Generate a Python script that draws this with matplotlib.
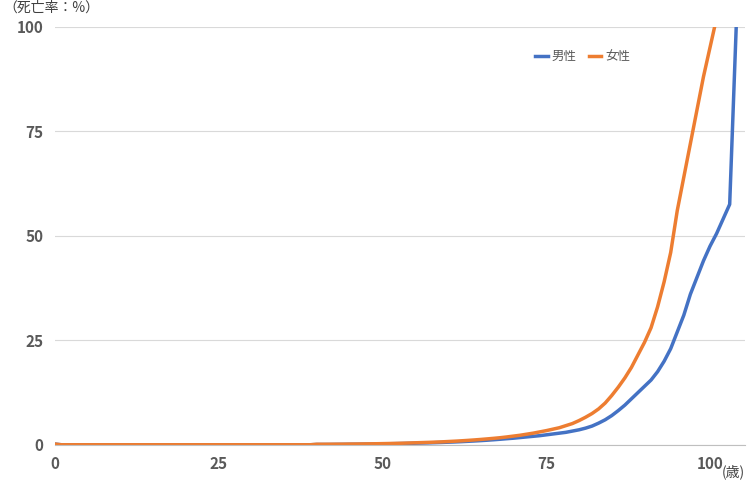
import matplotlib
matplotlib.use("Agg")
import matplotlib.pyplot as plt

plt.rcParams['font.family'] = ['Noto Sans CJK JP', 'DejaVu Sans']

ages = list(range(0, 106))

# 死亡率(%) 男性 0-104歳
male = ([0.2] + [0.03] * 39 +
        [0.1, 0.1, 0.1, 0.12, 0.13, 0.15, 0.16, 0.18, 0.2, 0.22,
         0.25, 0.27, 0.3, 0.33, 0.36, 0.4, 0.44, 0.48, 0.53, 0.58,
         0.64, 0.7, 0.77, 0.85, 0.93, 1.02, 1.12, 1.23, 1.35, 1.48,
         1.6, 1.75, 1.9, 2.05, 2.2, 2.4, 2.6, 2.8, 3.0, 3.3,
         3.6, 4.0, 4.5, 5.2, 6.0, 7.0, 8.2, 9.5, 11.0, 12.5,
         14.0, 15.5, 17.5, 20.0, 23.0, 27.0, 31.0, 36.0, 40.0, 44.0,
         47.5, 50.5, 54.0, 57.5, 100.0])

# 死亡率(%) 女性 0-102歳
female = ([0.2] + [0.03] * 39 +
          [0.15, 0.15, 0.16, 0.17, 0.18, 0.2, 0.21, 0.23, 0.25, 0.27,
           0.3, 0.33, 0.36, 0.4, 0.45, 0.5, 0.55, 0.6, 0.66, 0.72,
           0.8, 0.88, 0.97, 1.07, 1.18, 1.3, 1.43, 1.57, 1.72, 1.9,
           2.1, 2.3, 2.55, 2.8, 3.1, 3.4, 3.75, 4.1, 4.6, 5.1,
           5.8, 6.6, 7.5, 8.6, 10.0, 11.8, 13.8, 16.0, 18.5, 21.5,
           24.5, 28.0, 33.0, 39.0, 46.0, 56.0, 64.0, 72.0, 80.0, 88.0,
           95.0, 102.0])

fig = plt.figure(figsize=(7.5, 4.82), dpi=100)
ax = fig.add_axes([0.073, 0.077, 0.92, 0.868])

ax.plot(ages[:len(male)], male, color='#4472C4', lw=2.5, label='男性')
ax.plot(ages[:len(female)], female, color='#ED7D31', lw=2.5, label='女性')

ax.set_xlim(0, 105.3)
ax.set_ylim(0, 100)
ax.set_xticks([0, 25, 50, 75, 100])
ax.set_yticks([0, 25, 50, 75, 100])
ax.grid(axis='y', color='#d9d9d9', lw=0.8)
ax.set_axisbelow(True)
for s in ['top', 'right', 'left']:
    ax.spines[s].set_visible(False)
ax.spines['bottom'].set_color('#bfbfbf')
ax.tick_params(length=0, labelsize=11, labelcolor='#595959', pad=8)
for t in ax.get_xticklabels() + ax.get_yticklabels():
    t.set_fontweight('bold')

fig.text(0.005, 0.975, '（死亡率：%）', fontsize=10, color='#404040')
fig.text(0.962, 0.012, '(歳)', fontsize=10, color='#404040')

ax.legend(loc='upper left', bbox_to_anchor=(0.68, 0.97), ncol=2, frameon=False,
          fontsize=9, handlelength=1.0, columnspacing=1.0, handletextpad=0.3,
          labelcolor='#595959')

fig.savefig('out.png')
